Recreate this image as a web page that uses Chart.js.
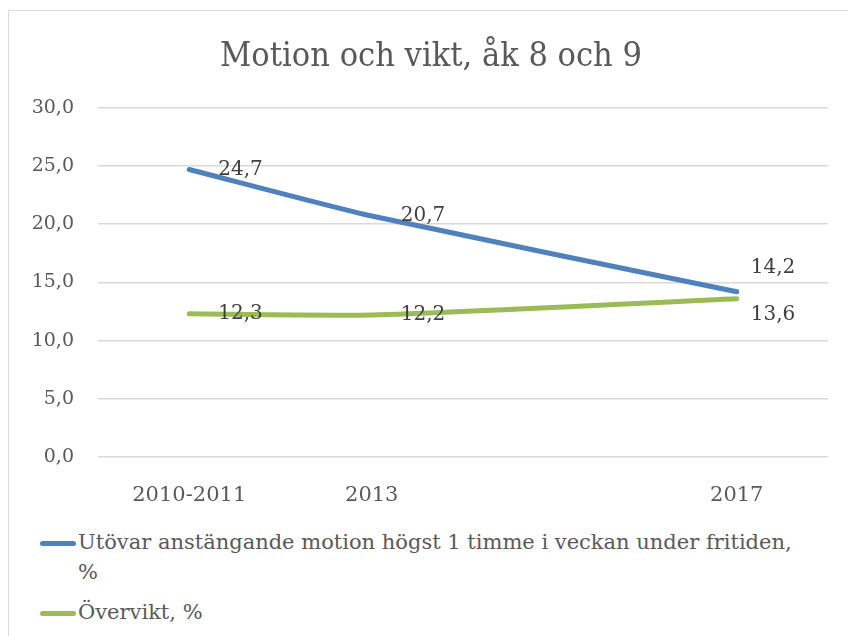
<!DOCTYPE html>
<html>
<head>
<meta charset="utf-8">
<script src="https://cdn.jsdelivr.net/npm/chart.js@4.4.0/dist/chart.umd.min.js"></script>
<style>
  body { margin: 0; background: #fff; width: 848px; height: 636px; overflow: hidden; position: relative; }
  #frame { position: absolute; left: 8px; top: 10px; width: 860px; height: 660px; border: 1px solid #d9d9d9; }
  #wrap { position: absolute; left: 0; top: 0; width: 848px; height: 515px; }
  #legend { position: absolute; left: 40px; top: 527px; width: 800px; font-family: 'DejaVu Serif', serif; font-size: 21px; color: #595959; }
  .item { display: flex; align-items: flex-start; line-height: 30px; margin-bottom: 10px; }
  .item span.txt { max-width: 735px; }
  .swatch { flex: none; width: 36px; height: 5px; border-radius: 3px; margin-top: 14px; margin-right: 2px; }
</style>
</head>
<body>
<div id="frame"></div>
<div id="wrap"><canvas id="chart"></canvas></div>
<div id="legend"></div>
<script>
// Data
const years = [2011, 2013, 2017];
const yearLabels = ['2010-2011', '2013', '2017'];
const seriesNames = ['Utövar anstängande motion högst 1 timme i veckan under fritiden, %', 'Övervikt, %'];
const motion = [24.7, 20.7, 14.2];
const overweight = [12.3, 12.2, 13.6];
const colors = ['#4f81bd', '#9bbb59'];

const fmt = v => v.toFixed(1).replace('.', ',');

// data labels right of each point, last ones moved above/below
const labelPlugin = {
  id: 'labels',
  afterDatasetsDraw(chart) {
    const ctx = chart.ctx;
    ctx.save();
    ctx.font = '20px "DejaVu Serif"';
    ctx.fillStyle = '#404040';
    ctx.textBaseline = 'middle';
    chart.data.datasets.forEach((ds, di) => {
      chart.getDatasetMeta(di).data.forEach((pt, i) => {
        let dx = 29, dy = 0;
        if (i === ds.data.length - 1) {
          dx = 14;
          dy = di === 0 ? -24 : 16;
        }
        ctx.fillText(fmt(ds.data[i].y), pt.x + dx, pt.y + dy);
      });
    });
    ctx.restore();
  }
};

new Chart(document.getElementById('chart'), {
  type: 'line',
  data: {
    datasets: [
      { label: seriesNames[0], data: years.map((x, i) => ({ x, y: motion[i] })), borderColor: colors[0] },
      { label: seriesNames[1], data: years.map((x, i) => ({ x, y: overweight[i] })), borderColor: colors[1] }
    ]
  },
  options: {
    responsive: true,
    maintainAspectRatio: false,
    animation: false,
    layout: { padding: { left: 14, right: 0, top: 0, bottom: 0 } },
    elements: {
      line: { borderWidth: 5, tension: 0.2, borderCapStyle: 'round', fill: false },
      point: { radius: 0 }
    },
    plugins: {
      legend: { display: false },
      tooltip: { enabled: false },
      title: {
        display: true,
        text: 'Motion och vikt, åk 8 och 9',
        color: '#595959',
        font: { family: '"DejaVu Serif Condensed", "DejaVu Serif"', size: 34, weight: 'normal' },
        padding: { top: 37, bottom: 30 }
      }
    },
    scales: {
      x: {
        type: 'linear',
        min: 2010,
        max: 2018,
        afterBuildTicks: s => { s.ticks = years.map(v => ({ value: v })); },
        afterFit: s => { s.height = 58; },
        grid: { display: false },
        border: { display: false },
        ticks: {
          autoSkip: false,
          maxRotation: 0,
          padding: 18,
          color: '#595959',
          font: { family: 'DejaVu Serif', size: 21 },
          callback: v => yearLabels[years.indexOf(v)]
        }
      },
      y: {
        min: 0,
        max: 30,
        afterFit: s => { s.width = 84; },
        grid: { color: '#d9d9d9', lineWidth: 1.5, drawTicks: false },
        border: { display: false },
        ticks: {
          stepSize: 5,
          padding: 24,
          color: '#595959',
          font: { family: 'DejaVu Serif', size: 19 },
          callback: v => fmt(v)
        }
      },
      // empty right axis, only keeps the plot's right edge off the border
      y2: {
        position: 'right',
        afterFit: s => { s.width = 20; },
        grid: { display: false },
        border: { display: false },
        ticks: { display: false }
      }
    }
  },
  plugins: [labelPlugin]
});

// HTML legend so the long label can wrap like the original
const legend = document.getElementById('legend');
seriesNames.forEach((name, i) => {
  const item = document.createElement('div');
  item.className = 'item';
  item.innerHTML = '<span class="swatch" style="background:' + colors[i] + '"></span><span class="txt">' + name + '</span>';
  legend.appendChild(item);
});
</script>
</body>
</html>
